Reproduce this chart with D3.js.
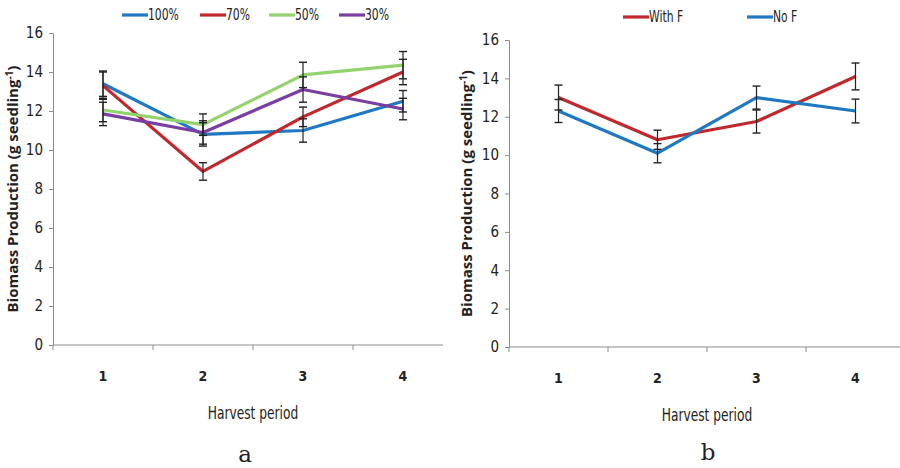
<!DOCTYPE html>
<html>
<head>
<meta charset="utf-8">
<script src="https://cdn.jsdelivr.net/npm/d3@7"></script>
<style>
  body { margin: 0; background: #fff; }
  svg { display: block; }
  .tick text { font-family: "Liberation Sans Narrow", "DejaVu Sans Condensed", sans-serif; }
</style>
</head>
<body>
<svg id="chart" width="900" height="468"></svg>
<script>
// harvest periods and y ticks shared by both panels
var periods = ["1", "2", "3", "4"];
var yTicks = [0, 2, 4, 6, 8, 10, 12, 14, 16];

// panel a: irrigation levels
var seriesA = ["100%", "70%", "50%", "30%"];
var a100 = [13.4, 10.8, 11.0, 12.5];
var a100Err = [0.65, 0.6, 0.6, 0.55];
var a70 = [13.3, 8.9, 11.7, 14.0];
var a70Err = [0.7, 0.45, 0.5, 0.65];
var a50 = [12.05, 11.3, 13.85, 14.35];
var a50Err = [0.6, 0.55, 0.65, 0.7];
var a30 = [11.85, 10.9, 13.1, 12.1];
var a30Err = [0.6, 0.6, 0.65, 0.55];

// panel b: fertiliser
var seriesB = ["With F", "No F"];
var bWith = [13.0, 10.8, 11.75, 14.1];
var bWithErr = [0.65, 0.5, 0.6, 0.7];
var bNo = [12.3, 10.1, 13.0, 12.3];
var bNoErr = [0.6, 0.5, 0.6, 0.62];

var narrow = "'Liberation Sans Narrow', 'DejaVu Sans Condensed', sans-serif";
var svg = d3.select("#chart");

function drawPanel(p) {
    var g = svg.append("g");
    var x = d3.scaleBand().domain(periods).range([p.left, p.left + 4 * p.band]);
    var y = d3.scaleLinear().domain([0, 16]).range([p.bottom, p.top]);

    // y axis
    var yAxis = g.append("g")
        .attr("transform", "translate(" + p.left + ",0)")
        .call(d3.axisLeft(y).tickValues(yTicks).tickSize(4).tickPadding(6));
    yAxis.select(".domain").attr("stroke", "#8c8c8c");
    yAxis.selectAll(".tick line").attr("stroke", "#8c8c8c");
    yAxis.selectAll(".tick text")
        .style("font-size", "15px")
        .attr("fill", "#222");

    // x axis: line + ticks between categories
    g.append("line")
        .attr("x1", p.left).attr("x2", p.axisEnd)
        .attr("y1", p.bottom).attr("y2", p.bottom)
        .attr("stroke", "#8c8c8c");
    g.selectAll(".xtick")
        .data(periods)
        .enter()
        .append("line")
        .attr("x1", function(d) { return x(d); })
        .attr("x2", function(d) { return x(d); })
        .attr("y1", p.bottom)
        .attr("y2", p.bottom + 5)
        .attr("stroke", "#8c8c8c");
    g.selectAll(".xlab")
        .data(periods)
        .enter()
        .append("text")
        .attr("x", function(d) { return x(d) + x.bandwidth() / 2; })
        .attr("y", p.bottom + 36)
        .attr("text-anchor", "middle")
        .style("font-family", narrow)
        .style("font-weight", "bold")
        .style("font-size", "14px")
        .attr("fill", "#222")
        .text(function(d) { return d; });

    // axis titles (squeezed horizontally like the narrow original font)
    g.append("text")
        .attr("transform", "translate(" + (p.left + 2 * p.band) + "," + (p.bottom + 74) + ") scale(0.8,1)")
        .attr("text-anchor", "middle")
        .style("font-family", narrow)
        .style("font-size", "17px")
        .attr("fill", "#222")
        .text("Harvest period");

    var yt = g.append("text")
        .attr("transform", "translate(" + p.titleX + "," + ((p.top + p.bottom) / 2) + ") rotate(-90)")
        .attr("text-anchor", "middle")
        .style("font-family", "'Open Sans', sans-serif")
        .style("font-weight", "bold")
        .style("font-size", "15px")
        .attr("fill", "#222");
    yt.append("tspan").text("Biomass Production (g seedling");
    yt.append("tspan").attr("dy", -5).style("font-size", "10px").text("-1");
    yt.append("tspan").attr("dy", 5).text(")");

    // panel letter
    g.append("text")
        .attr("x", p.letterX)
        .attr("y", p.letterY)
        .attr("text-anchor", "middle")
        .style("font-family", "'DejaVu Serif', serif")
        .style("font-size", "23px")
        .attr("fill", "#222")
        .text(p.letter);

    var line = d3.line()
        .x(function(d, i) { return x(periods[i]) + x.bandwidth() / 2; })
        .y(function(d) { return y(d); });

    // series lines
    p.series.forEach(function(s) {
        g.append("path")
            .datum(s.values)
            .attr("d", line)
            .attr("fill", "none")
            .attr("stroke", s.color)
            .attr("stroke-width", 3.2)
            .attr("stroke-linejoin", "round");
    });

    // error bars on top
    p.series.forEach(function(s) {
        var eb = g.append("g");
        s.values.forEach(function(v, i) {
            var cx = x(periods[i]) + x.bandwidth() / 2;
            eb.append("line")
                .attr("x1", cx).attr("x2", cx)
                .attr("y1", y(v - s.err[i])).attr("y2", y(v + s.err[i]))
                .attr("stroke", "#222").attr("stroke-width", 1.2);
            [v - s.err[i], v + s.err[i]].forEach(function(e) {
                eb.append("line")
                    .attr("x1", cx - 4).attr("x2", cx + 4)
                    .attr("y1", y(e)).attr("y2", y(e))
                    .attr("stroke", "#222").attr("stroke-width", 1.4);
            });
        });
    });

    // legend
    var lg = g.selectAll(".leg")
        .data(p.series)
        .enter()
        .append("g")
        .attr("transform", function(d, i) { return "translate(" + p.legendX[i] + "," + p.legendY + ")"; });
    lg.append("line")
        .attr("x1", 0).attr("x2", 26)
        .attr("y1", 0).attr("y2", 0)
        .attr("stroke", function(d) { return d.color; })
        .attr("stroke-width", 3.2);
    lg.append("text")
        .attr("transform", "translate(26,5) scale(0.8,1)")
        .style("font-family", narrow)
        .style("font-size", "15px")
        .attr("fill", "#222")
        .text(function(d) { return d.name; });
}

var blue = "#1f78c1", red = "#c0282d", green = "#92d36e", purple = "#7a3ea2";

drawPanel({
    left: 53, band: 100, top: 33, bottom: 345, axisEnd: 443,
    titleX: 18, letter: "a", letterX: 245, letterY: 462,
    legendY: 15, legendX: [122, 200, 269, 339],
    series: [
        { name: seriesA[0], values: a100, err: a100Err, color: blue },
        { name: seriesA[1], values: a70, err: a70Err, color: red },
        { name: seriesA[2], values: a50, err: a50Err, color: green },
        { name: seriesA[3], values: a30, err: a30Err, color: purple }
    ]
});

drawPanel({
    left: 509, band: 99, top: 40, bottom: 347, axisEnd: 900,
    titleX: 472, letter: "b", letterX: 708, letterY: 460,
    legendY: 17, legendX: [623, 747],
    series: [
        { name: seriesB[0], values: bWith, err: bWithErr, color: red },
        { name: seriesB[1], values: bNo, err: bNoErr, color: blue }
    ]
});
</script>
</body>
</html>
